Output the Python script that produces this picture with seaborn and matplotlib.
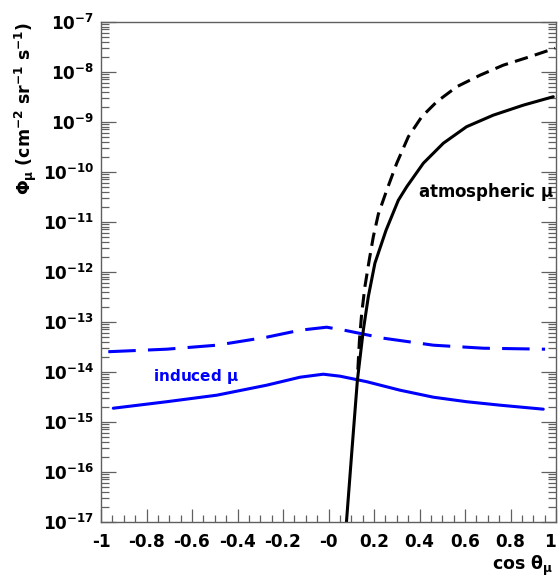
import numpy as np
import pandas as pd
import matplotlib
matplotlib.use("Agg")
import matplotlib.pyplot as plt
import matplotlib.ticker as mticker
import seaborn as sns

# ---- data ----
induced_cos = [-0.946, -0.711, -0.491, -0.272, -0.125, -0.023, 0.051, 0.168, 0.314, 0.461, 0.607, 0.754, 0.944]
induced_solid = [1.86e-15, 2.51e-15, 3.39e-15, 5.37e-15, 7.76e-15, 8.91e-15, 8.13e-15, 6.31e-15,
                 4.27e-15, 3.09e-15, 2.51e-15, 2.14e-15, 1.78e-15]
induced_dash_cos = [-0.968, -0.711, -0.491, -0.272, -0.125, -0.008, 0.080, 0.241, 0.461, 0.680, 0.952]
induced_dash = [2.51e-14, 2.82e-14, 3.39e-14, 4.90e-14, 6.76e-14, 7.76e-14, 6.61e-14, 4.68e-14,
                3.39e-14, 2.95e-14, 2.82e-14]

atm_cos = [0.079, 0.103, 0.127, 0.153, 0.175, 0.204, 0.253, 0.307, 0.344, 0.417, 0.505, 0.607,
           0.724, 0.856, 0.988]
atm_solid = [1.0e-17, 2.69e-16, 6.76e-15, 6.76e-14, 3.16e-13, 1.48e-12, 6.76e-12, 2.69e-11, 5.01e-11,
             1.48e-10, 3.72e-10, 7.94e-10, 1.35e-9, 2.14e-9, 3.16e-9]
atm_dash_cos = [0.129, 0.136, 0.146, 0.160, 0.179, 0.197, 0.219, 0.256, 0.300, 0.351, 0.410, 0.476,
                0.564, 0.666, 0.768, 0.886, 0.996]
atm_dash = [1.1e-14, 4.27e-14, 1.48e-13, 5.01e-13, 1.70e-12, 5.01e-12, 1.41e-11, 4.27e-11, 1.48e-10,
            5.01e-10, 1.26e-9, 2.51e-9, 5.01e-9, 8.51e-9, 1.35e-8, 2.0e-8, 2.95e-8]

xtick_vals = [-1, -0.8, -0.6, -0.4, -0.2, 0, 0.2, 0.4, 0.6, 0.8, 1]
xtick_labels = ["-1", "-0.8", "-0.6", "-0.4", "-0.2", "-0", "0.2", "0.4", "0.6", "0.8", "1"]
ytick_exps = list(range(-17, -6))

sns.set_style("white")
plt.rcParams["font.family"] = ["DejaVu Sans"]
plt.rcParams["mathtext.fontset"] = "dejavusans"
for k in ["text.color", "axes.labelcolor", "xtick.labelcolor", "ytick.labelcolor"]:
    plt.rcParams[k] = "black"

fig = plt.figure(figsize=(5.6, 5.79), dpi=100)
ax = fig.add_axes([101 / 560, 57.3 / 579, 455 / 560, 500 / 579])

blue = "#0000ff"
lw = 2.2
sns.lineplot(x=induced_cos, y=induced_solid, ax=ax, color=blue, lw=lw, errorbar=None)
sns.lineplot(x=induced_dash_cos, y=induced_dash, ax=ax, color=blue, lw=lw, errorbar=None,
             linestyle=(0, (9, 4)))
sns.lineplot(x=atm_cos, y=atm_solid, ax=ax, color="black", lw=lw, errorbar=None)
sns.lineplot(x=atm_dash_cos, y=atm_dash, ax=ax, color="black", lw=lw, errorbar=None,
             linestyle=(0, (4.4, 2.4)))

ax.set_yscale("log")
ax.set_xlim(-1, 1)
ax.set_ylim(1e-17, 1e-7)

ax.set_xticks(xtick_vals)
ax.set_xticklabels(xtick_labels, fontsize=12.2, fontweight="bold")
ax.get_xticklabels()[-1].set_horizontalalignment("right")
ax.xaxis.set_minor_locator(mticker.MultipleLocator(0.05))
ax.set_yticks([10.0 ** e for e in ytick_exps])
ax.set_yticklabels([r"$\mathbf{10^{%d}}$" % e for e in ytick_exps], fontsize=12.2)
ax.yaxis.set_minor_locator(mticker.LogLocator(base=10, subs=np.arange(2, 10), numticks=100))
ax.yaxis.set_minor_formatter(mticker.NullFormatter())

spc = "#606060"
for s in ax.spines.values():
    s.set_color(spc)
    s.set_linewidth(1.0)
ax.tick_params(axis="both", which="both", direction="in", color=spc, width=0.9,
               left=True, right=True, bottom=True, top=False)
ax.tick_params(axis="y", which="major", length=10.5, pad=5)
ax.tick_params(axis="y", which="minor", length=5.5)
ax.tick_params(axis="x", which="major", length=9.5, pad=8)
ax.tick_params(axis="x", which="minor", length=5)

ax.set_xlabel(r"$\mathbf{cos}$ $\mathbf{\theta_{\mu}}$", fontsize=12.5, loc="right")
ax.xaxis.set_label_coords(0.993, -0.064)
ax.set_ylabel(r"$\mathbf{\Phi_{\mu}}$ $\mathbf{(cm^{-2}\ sr^{-1}\ s^{-1})}$", fontsize=12.5,
              loc="top")
ax.yaxis.set_label_coords(-0.136, 1.0)

ax.text(0.393, 10 ** -10.41, r"atmospheric $\mathbf{\mu}$", fontsize=12, fontweight="bold",
        color="black", va="center", ha="left")
ax.text(-0.771, 10 ** -14.09, r"induced $\mathbf{\mu}$", fontsize=11, fontweight="bold",
        color=blue, va="center", ha="left")

fig.savefig("out.png", dpi=100)
